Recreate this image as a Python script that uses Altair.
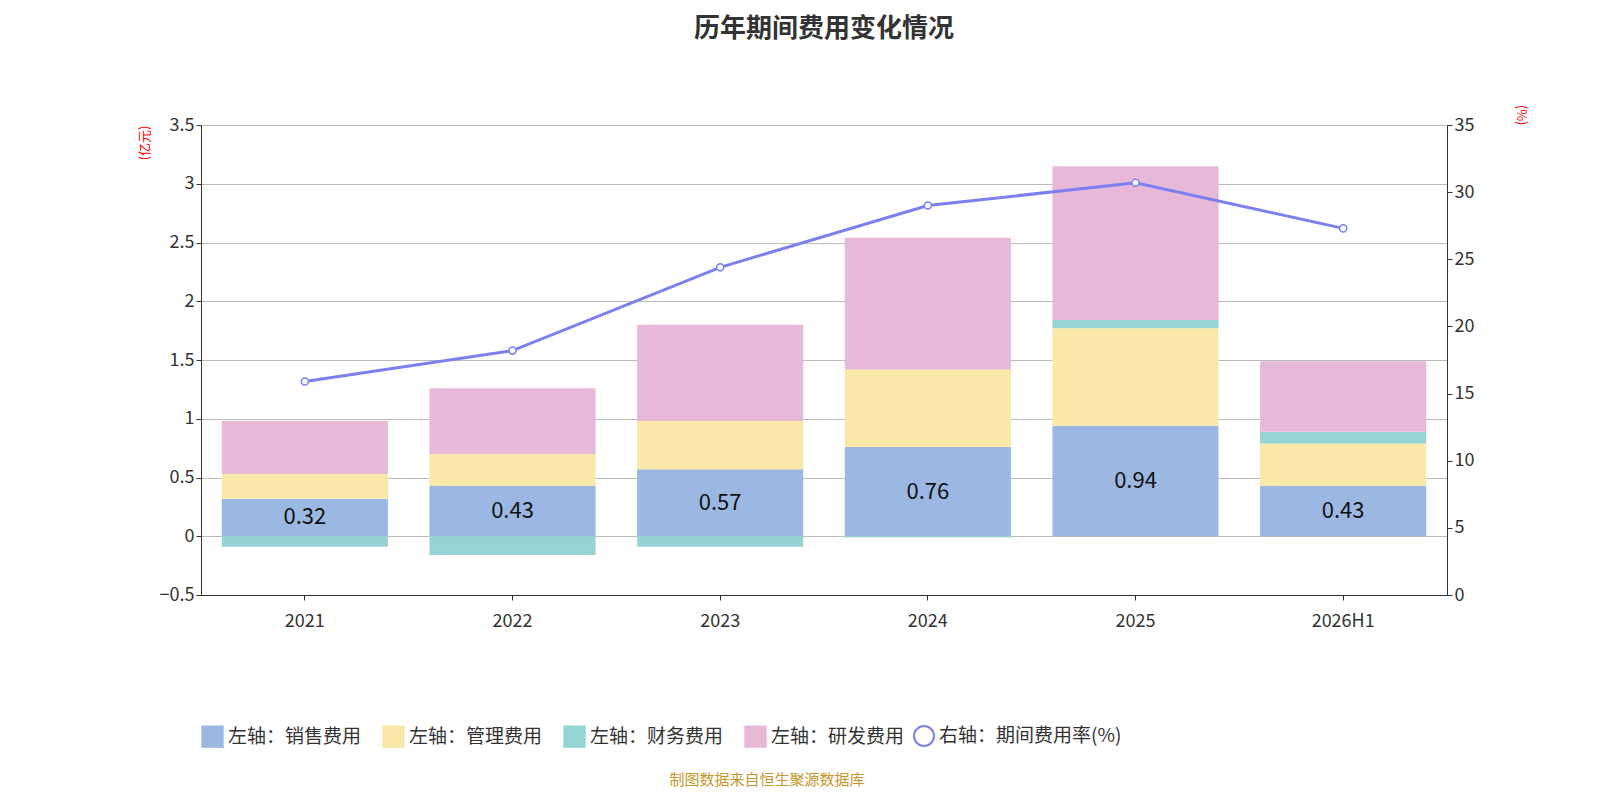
import pandas as pd
import altair as alt

years = ['2021', '2022', '2023', '2024', '2025', '2026H1']
sales = [0.32, 0.43, 0.57, 0.76, 0.94, 0.43]
admin = [0.21, 0.27, 0.41, 0.66, 0.83, 0.36]
finance = [-0.09, -0.16, -0.09, -0.01, 0.07, 0.10]
rnd = [0.45, 0.56, 0.82, 1.12, 1.31, 0.60]
rate = [15.9, 18.2, 24.4, 29.0, 30.7, 27.3]

names = ['左轴：销售费用', '左轴：管理费用', '左轴：财务费用', '左轴：研发费用']
colors = ['#9bb8e2', '#f9e8a8', '#96d4d4', '#e8b8d9']
line_name = '右轴：期间费用率(%)'
FONT = 'Noto Sans CJK SC'

rows = []
for i, y in enumerate(years):
    for k, s in enumerate([sales, admin, finance, rnd]):
        rows.append({'year': y, 'series': names[k], 'order': k, 'value': s[i]})
bars_df = pd.DataFrame(rows)
sales_df = pd.DataFrame({'year': years, 'value': sales, 'mid': [v / 2 for v in sales]})
rate_df = pd.DataFrame({'year': years, 'rate': rate, 'name': line_name})

x = alt.X('year:N', sort=years, title=None,
          scale=alt.Scale(paddingInner=0.2, paddingOuter=0.1),
          axis=alt.Axis(labelAngle=0, labelFontSize=18, labelColor='#333',
                        domainColor='#333', tickColor='#333', labelPadding=12))
yleft = alt.Scale(domain=[-0.5, 3.5])

bars = alt.Chart(bars_df).mark_bar().encode(
    x=x,
    y=alt.Y('value:Q', stack='zero', scale=yleft,
            axis=alt.Axis(values=[-0.5, 0, 0.5, 1, 1.5, 2, 2.5, 3, 3.5], title='(亿元)',
                          format='~g', titleColor='red', titleFontSize=13,
                          titleFontWeight='normal', titleAnchor='end', titleAngle=-90,
                          titlePadding=8, labelFontSize=18, labelColor='#333',
                          gridColor='#bbb', domainColor='#333', tickColor='#333')),
    color=alt.Color('series:N', sort=names,
                    scale=alt.Scale(domain=names, range=colors),
                    legend=alt.Legend(title=None, orient='bottom', offset=95,
                                      symbolType='square', symbolSize=500,
                                      labelFontSize=19, labelColor='#333', labelLimit=0,
                                      columnPadding=20, symbolStrokeWidth=0)),
    order=alt.Order('order:Q')
)

labels = alt.Chart(sales_df).mark_text(fontSize=22, color='#111', font=FONT).encode(
    x=x, y=alt.Y('mid:Q', scale=yleft), text=alt.Text('value:Q', format='.2f'))

line = alt.Chart(rate_df).mark_line(
    strokeWidth=3, point=alt.OverlayMarkDef(filled=True, fill='white', size=50, strokeWidth=1.5)
).encode(
    x=x,
    y=alt.Y('rate:Q', scale=alt.Scale(domain=[0, 35]),
            axis=alt.Axis(orient='right', values=list(range(0, 36, 5)), title='(%)',
                          titleColor='red', titleFontSize=13, titleFontWeight='normal',
                          titleAnchor='end', titleAngle=90, titlePadding=40, grid=False,
                          labelFontSize=18, labelColor='#333', domainColor='#333',
                          tickColor='#333')),
    stroke=alt.Stroke('name:N', scale=alt.Scale(range=['#7b7ff0']),
                      legend=alt.Legend(title=None, orient='bottom', offset=95,
                                        labelFontSize=19, labelColor='#333', labelLimit=0,
                                        symbolType='circle', symbolSize=400,
                                        symbolStrokeWidth=2, symbolFillColor='white'))
)

footer = alt.Chart(pd.DataFrame({'t': ['制图数据来自恒生聚源数据库']})).mark_text(
    fontSize=15, color='#c8962a', font=FONT).encode(
    text='t:N', x=alt.value(566), y=alt.value(655))

chart = alt.layer(alt.layer(bars, labels), line, footer).resolve_scale(
    y='independent').properties(
    width=1246, height=470,
    title=alt.TitleParams('历年期间费用变化情况', fontSize=26, fontWeight='bold',
                          color='#333', font=FONT, offset=62),
    padding={'left': 130, 'top': 8, 'right': 10, 'bottom': 5}
).configure(font=FONT).configure_view(stroke=None)

chart.save("out.html", embed_options={"renderer": "svg", "actions": False})
